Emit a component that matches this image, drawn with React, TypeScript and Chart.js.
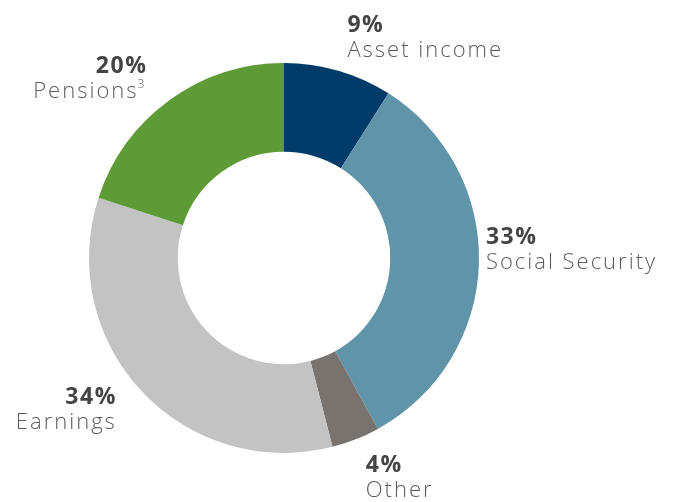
import React, { useEffect, useRef } from "react";
import { Chart, registerables } from "chart.js";

Chart.register(...registerables);

const categories = ["Asset income", "Social Security", "Other", "Earnings", "Pensions"];
const values = [9, 33, 4, 34, 20];
const percentLabels = ["9%", "33%", "4%", "34%", "20%"];
const superscripts = ["", "", "", "", "3"];
const colors = ["#003b6a", "#6094a8", "#78736f", "#c3c3c3", "#5e9b36"];
// label offset from the arc's outer mid-point, and alignment
const labelOffsets = [
  [9, -39],
  [7, -20],
  [10, 33],
  [-27, 13],
  [-24, -27],
];
const labelAligns: CanvasTextAlign[] = ["left", "left", "left", "right", "right"];

const NAME_FONT = "300 22px 'Open Sans'";
const SUP_FONT = "300 12px 'Open Sans'";
const PCT_FONT = "bold 23px 'Open Sans'";

const labelPlugin = {
  id: "sliceLabels",
  afterDraw(chart: any) {
    const ctx = chart.ctx;
    const meta = chart.getDatasetMeta(0);
    meta.data.forEach((arc: any, i: number) => {
      const { x, y, startAngle, endAngle, outerRadius } = arc.getProps(
        ["x", "y", "startAngle", "endAngle", "outerRadius"],
        true
      );
      const mid = (startAngle + endAngle) / 2;
      const ax = x + Math.cos(mid) * outerRadius + labelOffsets[i][0];
      const ay = y + Math.sin(mid) * outerRadius + labelOffsets[i][1];
      const align = labelAligns[i];
      ctx.save();
      ctx.textBaseline = "alphabetic";
      ctx.textAlign = align;
      ctx.fillStyle = "#444444";
      ctx.font = PCT_FONT;
      (ctx as any).letterSpacing = "1.5px";
      ctx.fillText(percentLabels[i], align === "right" ? ax + 2 : ax, ay);
      ctx.fillStyle = "#5c5c5c";
      ctx.font = NAME_FONT;
      (ctx as any).letterSpacing = "2px";
      const name = categories[i];
      const sup = superscripts[i];
      if (sup) {
        ctx.font = SUP_FONT;
        (ctx as any).letterSpacing = "0px";
        const sw = ctx.measureText(sup).width;
        ctx.font = NAME_FONT;
        (ctx as any).letterSpacing = "2px";
        const nw = ctx.measureText(name).width;
        const left = align === "right" ? ax - nw - sw : ax;
        ctx.textAlign = "left";
        ctx.fillText(name, left, ay + 25);
        ctx.font = SUP_FONT;
        (ctx as any).letterSpacing = "0px";
        ctx.fillText(sup, left + nw - 1, ay + 15);
      } else {
        ctx.fillText(name, align === "right" ? ax + 2 : ax, ay + 25);
      }
      ctx.restore();
    });
  },
};

export default function App() {
  const ref = useRef<HTMLCanvasElement>(null);
  useEffect(() => {
    document.body.style.margin = "0";
    const chart = new Chart(ref.current!, {
      type: "doughnut",
      data: {
        labels: categories,
        datasets: [
          {
            data: values,
            backgroundColor: colors,
            borderWidth: 0,
          },
        ],
      },
      options: {
        animation: false,
        responsive: false,
        cutout: "54.5%",
        layout: { padding: { top: 63, bottom: 49, left: 89, right: 197 } },
        plugins: { legend: { display: false }, tooltip: { enabled: false } },
      },
      plugins: [labelPlugin],
    });
    return () => chart.destroy();
  }, []);
  return (
    <div style={{ width: 676, height: 502, background: "#fff" }}>
      <canvas ref={ref} width={676} height={502} style={{ width: 676, height: 502 }} />
    </div>
  );
}
